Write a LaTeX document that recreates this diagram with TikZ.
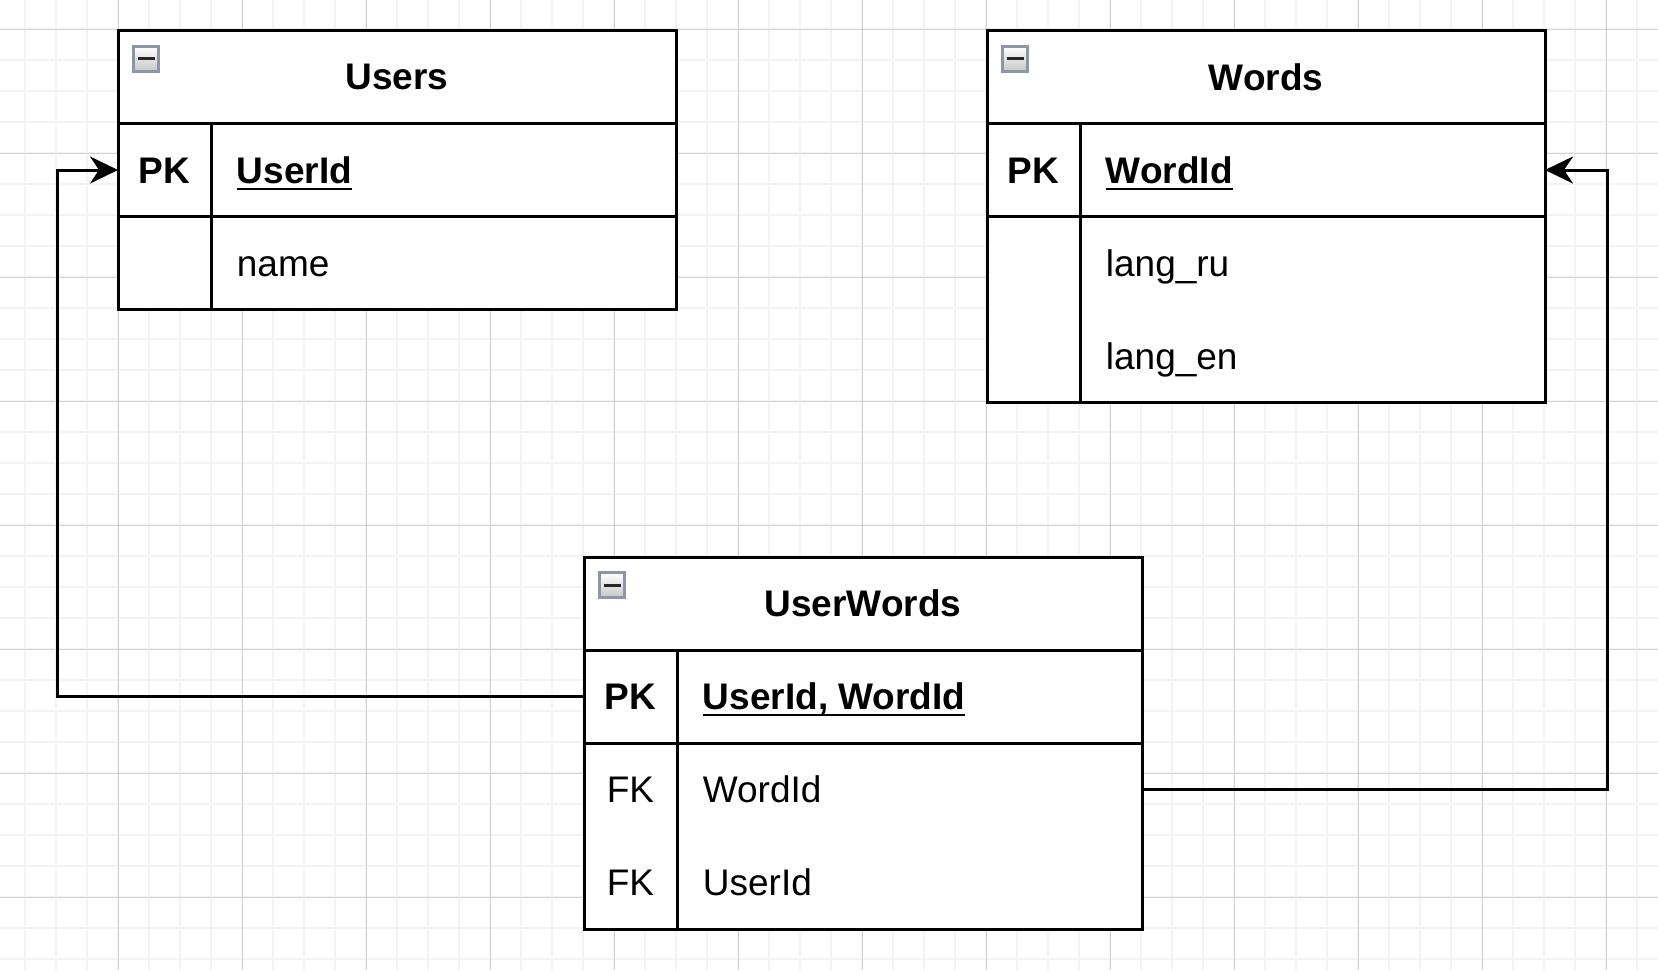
\documentclass[tikz,border=0pt]{standalone}
\usepackage{fontspec}
\setmainfont{Liberation Sans}
\usetikzlibrary{positioning, arrows.meta}

\definecolor{gridminor}{HTML}{F3F3F3}
\definecolor{gridmajor}{HTML}{D2D2D2}
\definecolor{iconedge}{HTML}{8C96A8}

\newcommand{\erfont}{\fontsize{18.5}{22}\selectfont}
\newcommand{\keyfield}[1]{\setbox0\hbox{\bfseries #1}\rlap{\rule[-3.3pt]{\wd0}{1pt}}\box0}

\tikzset{
    tbl/.style={draw, line width=1.5pt, fill=white, inner sep=0pt, outer sep=0pt,
        minimum width=279pt, minimum height=46.5pt},
    tblhead/.style={tbl, font=\erfont\bfseries},
    tblrow/.style={tbl, draw=none},
    tline/.style={line width=1.5pt},
    keytxt/.style={inner sep=0pt, text height=13.3pt, text depth=0pt, font=\erfont},
    fieldtxt/.style={keytxt, anchor=west},
    minbox/.style={draw=iconedge, line width=1.5pt, top color=white, bottom color=black!22,
        minimum size=12.5pt, inner sep=0pt, anchor=north west},
    minbar/.style={line width=1.5pt, black!85},
    conn/.style={line width=1.5pt, -{Stealth[length=14pt, width=13.5pt, inset=4.5pt]}}
}

\begin{document}
\begin{tikzpicture}[x=0.5pt, y=-0.5pt]
    \useasboundingbox (0,0) rectangle (1658,970);

    % Grid
    \fill [white] (0,0) rectangle (1658,970);
    \foreach \k in {0,...,52}
        \draw [gridminor, line width=1pt] ({25+31*\k},0) -- ({25+31*\k},970);
    \foreach \k in {1,...,31}
        \draw [gridminor, line width=1pt] (0,{-2+31*\k}) -- (1658,{-2+31*\k});
    \foreach \k in {0,...,12}
        \draw [gridmajor, line width=0.5pt] ({118+124*\k},0) -- ({118+124*\k},970);
    \foreach \k in {0,...,7}
        \draw [gridmajor, line width=0.5pt] (0,{29+124*\k}) -- (1658,{29+124*\k});

    % Users
    \node (users) [tblhead, anchor=north west] at (118,30.5) {Users};
    \node (usersPK) [tbl, below=0pt of users] {};
    \node (usersName) [tbl, below=0pt of usersPK] {};
    \draw [tline] ([xshift=46.5pt]usersPK.north west) -- ([xshift=46.5pt]usersName.south west);
    \node (usersMin) [minbox] at ([xshift=7pt, yshift=-7pt]users.north west) {};
    \draw [minbar] ([xshift=-4.25pt]usersMin.center) -- ([xshift=4.25pt]usersMin.center);

    % Words
    \node (words) [tblhead, anchor=north west] at (987,30.5) {Words};
    \node (wordsPK) [tbl, below=0pt of words] {};
    \node (wordsRu) [tblrow, below=0pt of wordsPK] {};
    \node (wordsEn) [tblrow, below=0pt of wordsRu] {};
    \draw [tline] (wordsRu.north west) rectangle (wordsEn.south east);
    \draw [tline] ([xshift=46.5pt]wordsPK.north west) -- ([xshift=46.5pt]wordsEn.south west);
    \node (wordsMin) [minbox] at ([xshift=7pt, yshift=-7pt]words.north west) {};
    \draw [minbar] ([xshift=-4.25pt]wordsMin.center) -- ([xshift=4.25pt]wordsMin.center);

    % UserWords
    \node (userWords) [tblhead, anchor=north west] at (584,557) {UserWords};
    \node (uwPK) [tbl, below=0pt of userWords] {};
    \node (uwWord) [tblrow, below=0pt of uwPK] {};
    \node (uwUser) [tblrow, below=0pt of uwWord] {};
    \draw [tline] (uwWord.north west) rectangle (uwUser.south east);
    \draw [tline] ([xshift=46.5pt]uwPK.north west) -- ([xshift=46.5pt]uwUser.south west);
    \node (uwMin) [minbox] at ([xshift=7pt, yshift=-7pt]userWords.north west) {};
    \draw [minbar] ([xshift=-4.25pt]uwMin.center) -- ([xshift=4.25pt]uwMin.center);

    % Texts
    \node (usersPKk) [keytxt] at ([xshift=23.25pt]usersPK.west) {\bfseries PK};
    \node (usersPKf) [fieldtxt] at ([xshift=59.25pt]usersPK.west) {\keyfield{UserId}};
    \node (usersNamef) [fieldtxt] at ([xshift=59.25pt]usersName.west) {name};

    \node (wordsPKk) [keytxt] at ([xshift=23.25pt]wordsPK.west) {\bfseries PK};
    \node (wordsPKf) [fieldtxt] at ([xshift=59.25pt]wordsPK.west) {\keyfield{WordId}};
    \node (wordsRuf) [fieldtxt] at ([xshift=59.25pt]wordsRu.west) {lang\_ru};
    \node (wordsEnf) [fieldtxt] at ([xshift=59.25pt]wordsEn.west) {lang\_en};

    \node (uwPKk) [keytxt] at ([xshift=23.25pt]uwPK.west) {\bfseries PK};
    \node (uwPKf) [fieldtxt] at ([xshift=59.25pt]uwPK.west) {\keyfield{UserId, WordId}};
    \node (uwWordk) [keytxt] at ([xshift=23.25pt]uwWord.west) {FK};
    \node (uwWordf) [fieldtxt] at ([xshift=59.25pt]uwWord.west) {WordId};
    \node (uwUserk) [keytxt] at ([xshift=23.25pt]uwUser.west) {FK};
    \node (uwUserf) [fieldtxt] at ([xshift=59.25pt]uwUser.west) {UserId};

    % Connectors
    \coordinate (leftLane) at (57,0);
    \coordinate (rightLane) at (1607,0);
    \draw [conn] (uwPK.west) -- (uwPK.west -| leftLane) |- (usersPK.west);
    \draw [conn] (uwWord.east) -- (uwWord.east -| rightLane) |- (wordsPK.east);
\end{tikzpicture}
\end{document}
